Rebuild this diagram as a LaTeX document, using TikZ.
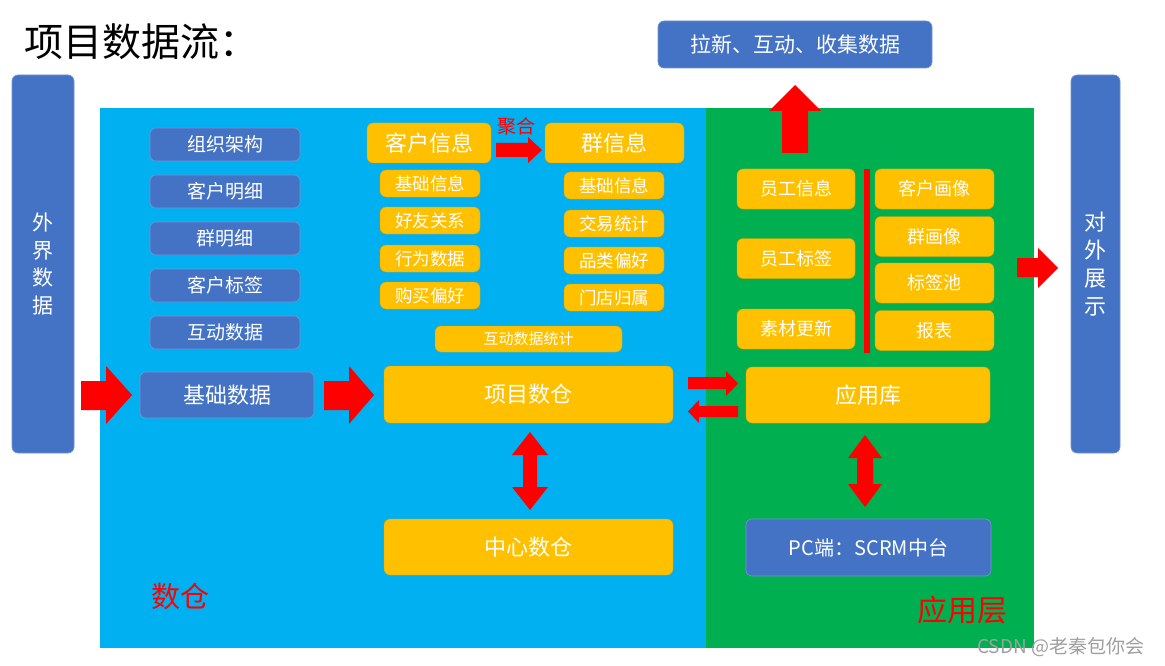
\documentclass[tikz,border=0pt]{standalone}
\usepackage{fontspec}
\setmainfont{Noto Sans CJK SC}
\definecolor{boxblue}{HTML}{4472C4}
\definecolor{boxyellow}{HTML}{FFC000}
\definecolor{regblue}{HTML}{00B0F0}
\definecolor{reggreen}{HTML}{00B050}
\definecolor{arrred}{HTML}{FF0000}
\newcommand\fsz[1]{\fontsize{#1}{#1}\selectfont}
\tikzset{
  bbox/.style={fill=boxblue, draw=boxblue!75!white, line width=0.6pt, rounded corners=6pt, text=white, inner sep=0pt},
  ybox/.style={fill=boxyellow, draw=boxyellow!85!black, line width=0.4pt, rounded corners=6pt, text=white, inner sep=0pt},
  redarrow/.style={fill=arrred},
  lbl/.style={inner sep=0pt}
}
\begin{document}
\begin{tikzpicture}[x=1pt,y=-1pt]
\useasboundingbox (0,0) rectangle (1165,666);
\fill[white] (0,0) rectangle (1165,666);
% regions
\fill[regblue] (100,108) rectangle (706,648);
\fill[reggreen] (706,108) rectangle (1034,648);
% title
\node[lbl, anchor=west, font=\fsz{39}] (title) at (24,42) {项目数据流：};
% side bars
\node[bbox, minimum width=62, minimum height=378, align=center, font=\fontsize{21}{27.5}\selectfont] (ext) at (43,264) {外\\界\\数\\据};
\node[bbox, minimum width=49, minimum height=378, align=center, font=\fontsize{22}{28}\selectfont] (show) at (1095.5,264) {对\\外\\展\\示};
% left column
\node[bbox, minimum width=150, minimum height=33, font=\fsz{19}] (zz) at (225,144.5) {组织架构};
\node[bbox, minimum width=150, minimum height=33, font=\fsz{19}] (khmx) at (225,191.5) {客户明细};
\node[bbox, minimum width=150, minimum height=33, font=\fsz{19}] (qmx) at (225,238.5) {群明细};
\node[bbox, minimum width=150, minimum height=33, font=\fsz{19}] (khbq) at (225,285.5) {客户标签};
\node[bbox, minimum width=150, minimum height=33, font=\fsz{19}] (hdsj) at (225,332.5) {互动数据};
\node[bbox, minimum width=174, minimum height=46, font=\fsz{22}] (jcsj) at (227,395) {基础数据};
% customer / group info
\node[ybox, minimum width=124, minimum height=40, font=\fsz{22}] (khxx) at (429,143) {客户信息};
\node[ybox, minimum width=139, minimum height=40, font=\fsz{22}] (qxx) at (614.5,143) {群信息};
\node[lbl, text=arrred, font=\fsz{19}] (jh) at (516,126) {聚合};
\node[ybox, minimum width=100, minimum height=27, font=\fsz{17.5}] (l1) at (430,183.5) {基础信息};
\node[ybox, minimum width=100, minimum height=27, font=\fsz{17.5}] (l2) at (430,220.5) {好友关系};
\node[ybox, minimum width=100, minimum height=27, font=\fsz{17.5}] (l3) at (430,258.5) {行为数据};
\node[ybox, minimum width=100, minimum height=27, font=\fsz{17.5}] (l4) at (430,295.5) {购买偏好};
\node[ybox, minimum width=100, minimum height=27, font=\fsz{17.5}] (r1) at (614,185.5) {基础信息};
\node[ybox, minimum width=100, minimum height=27, font=\fsz{17.5}] (r2) at (614,223.5) {交易统计};
\node[ybox, minimum width=100, minimum height=27, font=\fsz{17.5}] (r3) at (614,260.5) {品类偏好};
\node[ybox, minimum width=100, minimum height=27, font=\fsz{17.5}] (r4) at (614,297.5) {门店归属};
\node[ybox, minimum width=187, minimum height=26, font=\fsz{15}] (hdtj) at (528.5,339) {互动数据统计};
\node[ybox, minimum width=289, minimum height=57, font=\fsz{22}] (xmsc) at (528.5,394.5) {项目数仓};
\node[ybox, minimum width=289, minimum height=56, font=\fsz{22}] (zxsc) at (528.5,547) {中心数仓};
\node[lbl, text=arrred, font=\fsz{29}] (sclbl) at (180,597) {数仓};
% application layer
\node[bbox, minimum width=274, minimum height=47, font=\fsz{21}] (lx) at (795,44.5) {拉新、互动、收集数据};
\node[ybox, minimum width=118, minimum height=40, font=\fsz{18}] (ygxx) at (796,189) {员工信息};
\node[ybox, minimum width=118, minimum height=40, font=\fsz{18}] (ygbq) at (796,258.5) {员工标签};
\node[ybox, minimum width=118, minimum height=40, font=\fsz{18}] (scgx) at (796,329) {素材更新};
\node[ybox, minimum width=119, minimum height=40, font=\fsz{18}] (khhx) at (934.5,189) {客户画像};
\node[ybox, minimum width=119, minimum height=40, font=\fsz{18}] (qhx) at (934.5,236.5) {群画像};
\node[ybox, minimum width=119, minimum height=40, font=\fsz{18}] (bqc) at (934.5,283) {标签池};
\node[ybox, minimum width=119, minimum height=40, font=\fsz{18}] (bb) at (934.5,330.5) {报表};
\fill[arrred] (864,169) rectangle (870,353);
\node[ybox, minimum width=244, minimum height=56, font=\fsz{22}] (yyk) at (868,395) {应用库};
\node[bbox, minimum width=245, minimum height=57, font=\fsz{20}] (pc) at (868.5,547.5) {PC端：SCRM中台};
\node[lbl, text=arrred, font=\fsz{30}] (yyc) at (962,610) {应用层};
% block arrows
\fill[redarrow] (81,381) -- (106,381) -- (106,366) -- (132,395) -- (106,424) -- (106,410) -- (81,410) -- cycle;
\fill[redarrow] (324,381) -- (349,381) -- (349,366) -- (374,395) -- (349,424) -- (349,410) -- (324,410) -- cycle;
\fill[redarrow] (496,143) -- (528,143) -- (528,137) -- (542,150) -- (528,163) -- (528,157) -- (496,157) -- cycle;
\fill[redarrow] (688,377) -- (726,377) -- (726,371) -- (738,383.5) -- (726,396) -- (726,389) -- (688,389) -- cycle;
\fill[redarrow] (738,406) -- (699,406) -- (699,400) -- (688,411.5) -- (699,423) -- (699,417) -- (738,417) -- cycle;
\fill[redarrow] (1017,258) -- (1038,258) -- (1038,248) -- (1058,268) -- (1038,288) -- (1038,277) -- (1017,277) -- cycle;
\fill[redarrow] (782,153) -- (782,111) -- (769,111) -- (795,85) -- (821,111) -- (808,111) -- (808,153) -- cycle;
\fill[redarrow] (530,432) -- (548,455) -- (537,455) -- (537,487) -- (548,487) -- (530,510) -- (512,487) -- (523,487) -- (523,455) -- (512,455) -- cycle;
\fill[redarrow] (865,435) -- (882,458) -- (873,458) -- (873,484) -- (882,484) -- (865,507) -- (848,484) -- (857,484) -- (857,458) -- (848,458) -- cycle;
% watermark
\node[lbl, anchor=west, text=gray!75, font=\fsz{19}] (wm) at (977,647) {CSDN @老秦包你会};
\end{tikzpicture}
\end{document}
